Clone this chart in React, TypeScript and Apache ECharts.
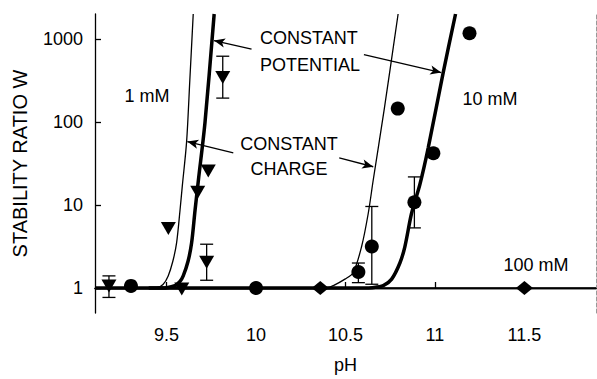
import React, { useEffect, useRef } from "react";
import * as echarts from "echarts";

// ---- data (W values, pH) ----
const xTicks = [9.5, 10, 10.5, 11, 11.5];
const yTicks = [1, 10, 100, 1000];

// 1 mM measured (down triangles)
const tri_pH = [9.178, 9.585, 9.51, 9.724, 9.674, 9.733, 9.814];
const tri_W = [1.06, 0.97, 5.2, 2.05, 14.2, 25.7, 343];
// 10 mM measured (circles)
const circ_pH = [9.301, 10.0, 10.572, 10.647, 10.885, 10.991, 10.792, 11.193];
const circ_W = [1.06, 1.0, 1.56, 3.16, 10.8, 42, 145, 1172];
// 100 mM measured (diamonds)
const dia_pH = [10.359, 11.5];
const dia_W = [1.0, 1.0];

// error bars: pH, low, high
const err_pH = [9.178, 9.724, 9.814, 10.572, 10.647, 10.885];
const err_lo = [0.77, 1.24, 194, 1.16, 1.11, 5.3];
const err_hi = [1.4, 3.37, 620, 2.0, 9.6, 21.8];

// theory curves
const cc1_pH = [9.35, 9.4, 9.445, 9.48, 9.509, 9.535, 9.556, 9.575, 9.588, 9.612, 9.63, 9.649];
const cc1_W = [1, 1, 1.01, 1.1, 1.4, 2.1, 3.5, 8.6, 17, 58, 320, 2000];
const cp1_pH = [9.4, 9.45, 9.5, 9.547, 9.575, 9.593, 9.62, 9.64, 9.659, 9.678, 9.715, 9.766];
const cp1_W = [1, 1, 1.01, 1.07, 1.2, 1.4, 2.1, 3.5, 8.6, 20, 100, 2000];
const cc10_pH = [10.3, 10.4, 10.432, 10.497, 10.543, 10.59, 10.627, 10.655, 10.717, 10.794];
const cc10_W = [1, 1.01, 1.07, 1.28, 1.53, 3.16, 7.9, 20, 145, 2000];
const cp10_pH = [9.1, 10.6, 10.65, 10.711, 10.758, 10.804, 10.832, 10.869, 10.916, 10.962, 11.046, 11.115];
const cp10_W = [1, 1, 1.01, 1.07, 1.28, 2.0, 3.16, 7.9, 17.8, 48.5, 394, 2000];
const l100_pH = [9.1, 11.9];
const l100_W = [1, 1];

// annotation arrows: from (pH, W) to (pH, W)
const arrowFrom_pH = [9.975, 10.603, 9.873, 10.465];
const arrowFrom_W = [757, 649, 42.4, 36.9];
const arrowTo_pH = [9.765, 11.035, 9.616, 10.655];
const arrowTo_W = [957, 394, 58.2, 28.9];

const FONT = "Liberation Sans";
const lg = (v: number) => Math.log10(v);
const pairs = (xs: number[], ys: number[]) => xs.map((x, i) => [x, lg(ys[i])]);

export default function App() {
  const ref = useRef<HTMLDivElement>(null);
  useEffect(() => {
    document.body.style.margin = "0";
    const chart = echarts.init(ref.current!, undefined, { renderer: "svg" });
    const lineSeries = (name: string, xs: number[], ys: number[], w: number) => ({
      name,
      type: "line",
      data: pairs(xs, ys),
      showSymbol: false,
      symbol: "none",
      smooth: 0.3,
      lineStyle: { color: "#000", width: w },
      silent: true,
      z: 2,
    });
    const arrows = arrowFrom_pH.map((x, i) => [
      { coord: [x, lg(arrowFrom_W[i])] },
      { coord: [arrowTo_pH[i], lg(arrowTo_W[i])] },
    ]);
    const txt = (text: string, x: number, y: number, align: string) => ({
      type: "text",
      x,
      y,
      style: { text, font: `18px '${FONT}'`, fill: "#000", textAlign: align, textVerticalAlign: "middle" },
    });
    const option: any = {
      animation: false,
      grid: { left: 95, right: 1, top: 14, bottom: 61, containLabel: false },
      xAxis: [
        {
          type: "value",
          min: 9.1,
          max: 11.9,
          name: "pH",
          nameLocation: "middle",
          nameGap: 43,
          nameTextStyle: { fontFamily: FONT, fontSize: 18, color: "#000" },
          axisLine: { show: true, lineStyle: { color: "#000", width: 1.3 } },
          axisTick: { show: true, inside: true, length: 6, customValues: xTicks, lineStyle: { color: "#000", width: 1.3 } },
          axisLabel: { customValues: xTicks, fontFamily: FONT, fontSize: 18, color: "#000", margin: 13 },
          splitLine: { show: false },
        },
        {
          type: "value",
          position: "top",
          min: 9.1,
          max: 11.9,
          axisLine: { show: true, lineStyle: { color: "#000", width: 1.3 } },
          axisTick: { show: false },
          axisLabel: { show: false },
          splitLine: { show: false },
        },
      ],
      yAxis: [
        {
          type: "value",
          min: lg(0.5),
          max: lg(2000),
          name: "STABILITY RATIO W",
          nameLocation: "middle",
          nameGap: 65,
          nameTextStyle: { fontFamily: FONT, fontSize: 20, color: "#000" },
          axisLine: { show: true, lineStyle: { color: "#000", width: 1.3 } },
          axisTick: { show: true, inside: true, length: 6, customValues: yTicks.map(lg), lineStyle: { color: "#000", width: 1.3 } },
          axisLabel: {
            customValues: yTicks.map(lg),
            formatter: (v: number) => String(Math.round(Math.pow(10, v))),
            fontFamily: FONT,
            fontSize: 18,
            color: "#000",
            margin: 12,
          },
          splitLine: { show: false },
        },
        {
          type: "value",
          position: "right",
          min: lg(0.5),
          max: lg(2000),
          axisLine: { show: true, lineStyle: { color: "#999", width: 1, type: "dashed" } },
          axisTick: { show: false },
          axisLabel: { show: false },
          splitLine: { show: false },
        },
      ],
      graphic: [
        txt("CONSTANT", 260, 38, "left"),
        txt("POTENTIAL", 260, 65, "left"),
        txt("CONSTANT", 289, 144, "center"),
        txt("CHARGE", 289, 169, "center"),
        txt("1 mM", 147, 96, "center"),
        txt("10 mM", 490, 99, "center"),
        txt("100 mM", 536, 265, "center"),
      ],
      series: [
        {
          ...lineSeries("100 mM", l100_pH, l100_W, 1.3),
          markLine: {
            silent: true,
            symbol: ["none", "arrow"],
            symbolSize: [7, 11],
            label: { show: false },
            lineStyle: { color: "#000", width: 1.3, type: "solid" },
            data: arrows,
          },
        },
        lineSeries("CC 1 mM", cc1_pH, cc1_W, 1.3),
        lineSeries("CC 10 mM", cc10_pH, cc10_W, 1.3),
        lineSeries("CP 1 mM", cp1_pH, cp1_W, 3.5),
        lineSeries("CP 10 mM", cp10_pH, cp10_W, 3.5),
        {
          name: "err",
          type: "custom",
          silent: true,
          z: 3,
          data: err_pH.map((x, i) => [x, lg(err_lo[i]), lg(err_hi[i])]),
          renderItem: (params: any, api: any) => {
            const x = api.value(0);
            const lo = api.coord([x, api.value(1)]);
            const hi = api.coord([x, api.value(2)]);
            const c = 6.5;
            const st = { stroke: "#000", lineWidth: 1.3 };
            return {
              type: "group",
              children: [
                { type: "line", shape: { x1: lo[0], y1: lo[1], x2: hi[0], y2: hi[1] }, style: st },
                { type: "line", shape: { x1: lo[0] - c, y1: lo[1], x2: lo[0] + c, y2: lo[1] }, style: st },
                { type: "line", shape: { x1: hi[0] - c, y1: hi[1], x2: hi[0] + c, y2: hi[1] }, style: st },
              ],
            };
          },
        },
        {
          name: "1 mM",
          type: "scatter",
          symbol: "triangle",
          symbolRotate: 180,
          symbolSize: [15, 13],
          itemStyle: { color: "#000", opacity: 1 },
          data: pairs(tri_pH, tri_W),
          z: 4,
        },
        {
          name: "10 mM",
          type: "scatter",
          symbol: "circle",
          symbolSize: 14,
          itemStyle: { color: "#000", opacity: 1 },
          data: pairs(circ_pH, circ_W),
          z: 4,
        },
        {
          name: "100 mM pts",
          type: "scatter",
          symbol: "diamond",
          symbolSize: [17, 14],
          itemStyle: { color: "#000", opacity: 1 },
          data: pairs(dia_pH, dia_W),
          z: 4,
        },
      ],
    };
    chart.setOption(option);
    return () => chart.dispose();
  }, []);
  return <div ref={ref} style={{ position: "absolute", left: 0, top: 0, width: 597, height: 379 }} />;
}
